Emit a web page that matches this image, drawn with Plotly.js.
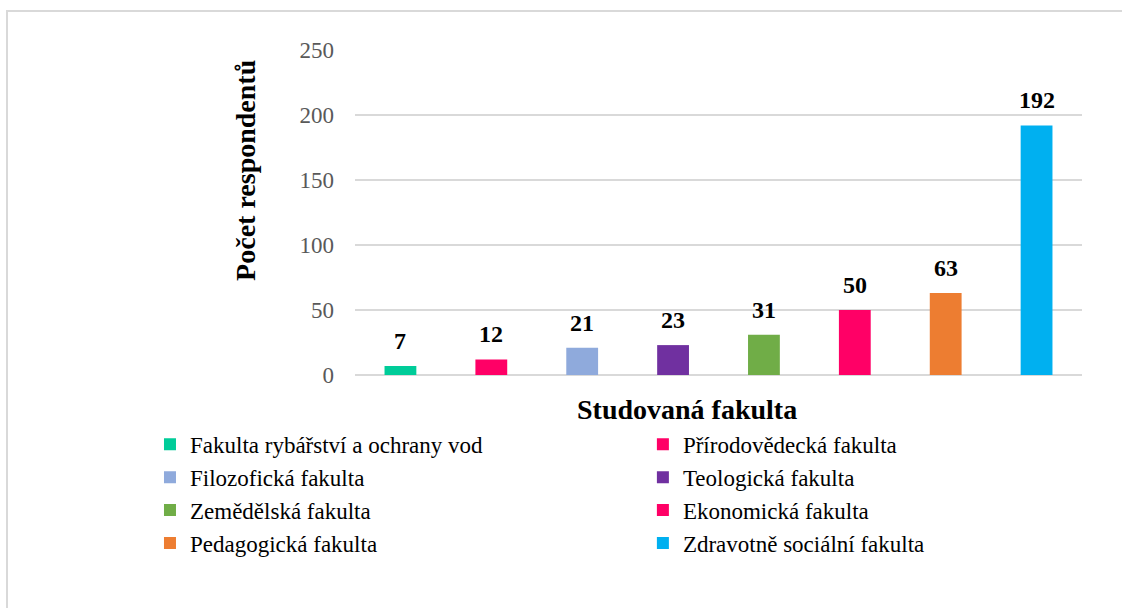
<!DOCTYPE html>
<html>
<head>
<meta charset="utf-8">
<script src="https://cdn.plot.ly/plotly-3.0.1.min.js"></script>
<style>
  html, body { margin: 0; padding: 0; background: #ffffff; }
  #wrap { position: relative; width: 1122px; height: 608px; }
  #chart { position: absolute; left: 0; top: 0; width: 1122px; height: 608px; }
  #frame { position: absolute; left: 6px; top: 10px; right: -4px; bottom: -4px;
           border-top: 2px solid #d9d9d9; border-left: 2px solid #d9d9d9; pointer-events: none; }
</style>
</head>
<body>
<div id="wrap">
  <div id="chart"></div>
  <div id="frame"></div>
</div>
<script>
// ---- data ----
const faculties = [
  "Fakulta rybářství a ochrany vod",
  "Přírodovědecká fakulta",
  "Filozofická fakulta",
  "Teologická fakulta",
  "Zemědělská fakulta",
  "Ekonomická fakulta",
  "Pedagogická fakulta",
  "Zdravotně sociální fakulta"
];
const respondents = [7, 12, 21, 23, 31, 50, 63, 192];
const barColors = ["#00CC99", "#FF0066", "#8FAADC", "#7030A0", "#70AD47", "#FF0066", "#ED7D31", "#00B0F0"];
const yTicks = [0, 50, 100, 150, 200, 250];
const yTitle = "Počet respondentů";
const xTitle = "Studovaná fakulta";

const serif = "Liberation Serif";

// legend is laid out in two columns: even entries left, odd entries right
const traces = faculties.map((name, i) => ({
  type: "bar",
  name: name,
  x: [name],
  y: [respondents[i]],
  marker: { color: barColors[i] },
  legend: i % 2 === 0 ? "legend" : "legend2",
  hoverinfo: "x+y"
}));

const labelAnnotations = faculties.map((name, i) => ({
  x: name,
  y: respondents[i],
  xref: "x",
  yref: "y",
  text: String(respondents[i]),
  showarrow: false,
  yanchor: "bottom",
  yshift: 10,
  font: { family: serif, size: 24, color: "#000000", weight: "bold" }
}));

const legendStyle = {
  orientation: "v",
  xanchor: "left",
  y: -0.147,
  yanchor: "top",
  traceorder: "normal",
  font: { family: serif, size: 23, color: "#000000" },
  bgcolor: "rgba(0,0,0,0)"
};

const layout = {
  width: 1122,
  height: 608,
  margin: { l: 355, r: 40, t: 50, b: 233 },
  paper_bgcolor: "rgba(0,0,0,0)",
  plot_bgcolor: "#ffffff",
  barmode: "relative",
  bargap: 0.65,
  showlegend: true,
  font: { family: serif, color: "#000000" },
  xaxis: {
    type: "category",
    categoryorder: "array",
    categoryarray: faculties,
    showticklabels: false,
    showgrid: false,
    zeroline: false,
    showline: false,
    ticks: ""
  },
  yaxis: {
    range: [0, 250],
    tickvals: yTicks,
    ticktext: yTicks.map(String),
    showgrid: true,
    gridcolor: "#d9d9d9",
    gridwidth: 1.5,
    zeroline: true,
    zerolinecolor: "#d9d9d9",
    zerolinewidth: 1.5,
    showline: false,
    ticks: "",
    ticklabelstandoff: 20,
    tickfont: { family: serif, size: 23, color: "#595959" }
  },
  legend: Object.assign({}, legendStyle, { x: -0.282 }),
  legend2: Object.assign({}, legendStyle, { x: 0.396 }),
  annotations: labelAnnotations.concat([
    {
      xref: "paper", yref: "paper",
      x: -0.15, y: 0.631,
      xanchor: "center", yanchor: "middle",
      textangle: -90,
      text: yTitle,
      showarrow: false,
      font: { family: serif, size: 28, color: "#000000", weight: "bold" }
    },
    {
      xref: "paper", yref: "paper",
      x: 0.456, y: -0.105,
      xanchor: "center", yanchor: "middle",
      text: xTitle,
      showarrow: false,
      font: { family: serif, size: 28, color: "#000000", weight: "bold" }
    }
  ])
};

Plotly.newPlot("chart", traces, layout, { displayModeBar: false, responsive: false });
</script>
</body>
</html>
